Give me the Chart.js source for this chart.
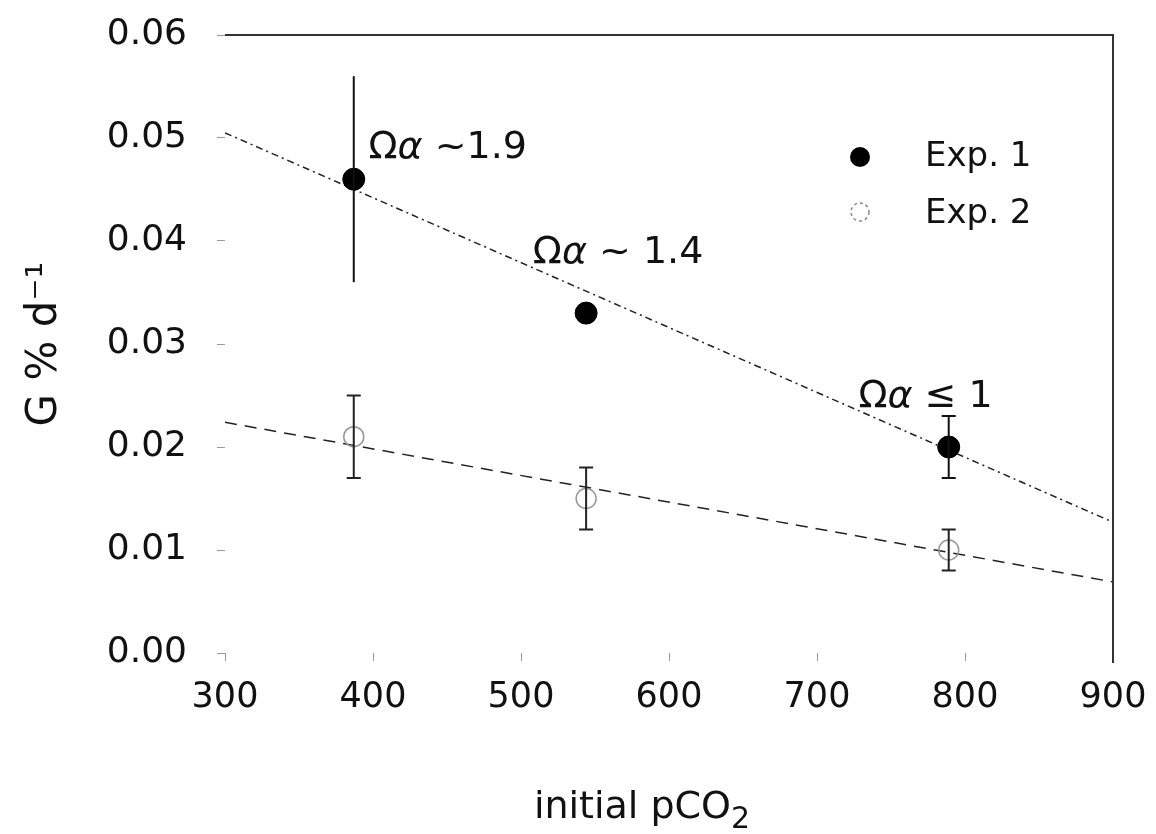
<!DOCTYPE html>
<html>
<head>
<meta charset="utf-8">
<script src="https://cdn.jsdelivr.net/npm/chart.js@4/dist/chart.umd.min.js"></script>
<style>
  body { margin: 0; background: #fff; }
  #wrap { width: 1156px; height: 834px; position: relative; }
</style>
</head>
<body>
<div id="wrap"><canvas id="chart"></canvas></div>
<script>
// data
var pco2 = [387, 544, 789];
var exp1 = [0.046, 0.033, 0.020];
var exp1Err = [0.010, 0, 0.003];
var exp2 = [0.021, 0.015, 0.010];
var exp2Err = [0.004, 0.003, 0.002];
// regression lines (end points)
var fitX = [300, 900];
var fit1 = [0.0505, 0.0127];
var fit2 = [0.0224, 0.0069];
var notes = [
  { x: 397, y: 0.0481, rest: " ~1.9" },
  { x: 508, y: 0.0379, rest: " ~ 1.4" },
  { x: 728, y: 0.0239, rest: " \u2264 1" }
];

function pts(xs, ys) {
  return xs.map(function (x, i) { return { x: x, y: ys[i] }; });
}

var FONT = "'DejaVu Sans', sans-serif";

var extras = {
  id: "extras",
  afterDatasetsDraw: function (chart) {
    var ctx = chart.ctx;
    var xs = chart.scales.x, ys = chart.scales.y;
    var a = chart.chartArea;

    // frame: top and right
    ctx.save();
    ctx.strokeStyle = "#333";
    ctx.lineWidth = 2;
    ctx.beginPath();
    ctx.moveTo(a.left, a.top);
    ctx.lineTo(a.right, a.top);
    ctx.lineTo(a.right, a.bottom + 10);
    ctx.stroke();

    // error bars
    function bars(vals, errs, color, caps) {
      ctx.strokeStyle = color;
      ctx.lineWidth = 2;
      vals.forEach(function (v, i) {
        if (!errs[i]) return;
        var px = xs.getPixelForValue(pco2[i]);
        var top = ys.getPixelForValue(v + errs[i]);
        var bot = ys.getPixelForValue(v - errs[i]);
        ctx.beginPath();
        ctx.moveTo(px, top); ctx.lineTo(px, bot);
        if (caps || errs[i] < 0.008) {
          ctx.moveTo(px - 7, top); ctx.lineTo(px + 7, top);
          ctx.moveTo(px - 7, bot); ctx.lineTo(px + 7, bot);
        }
        ctx.stroke();
      });
    }
    bars(exp1, exp1Err, "#111", false);
    bars(exp2, exp2Err, "#222", true);

    // annotations
    ctx.fillStyle = "#111";
    ctx.textBaseline = "alphabetic";
    notes.forEach(function (n) {
      var px = xs.getPixelForValue(n.x);
      var py = ys.getPixelForValue(n.y);
      ctx.font = "38px " + FONT;
      ctx.fillText("\u03A9", px, py);
      var w = ctx.measureText("\u03A9").width;
      ctx.font = "italic 38px " + FONT;
      ctx.fillText("\u03B1", px + w, py);
      w += ctx.measureText("\u03B1").width;
      ctx.font = "38px " + FONT;
      ctx.fillText(n.rest, px + w, py);
    });

    // legend
    ctx.beginPath();
    ctx.fillStyle = "#000";
    ctx.arc(860, 157, 10, 0, Math.PI * 2);
    ctx.fill();
    ctx.beginPath();
    ctx.strokeStyle = "#888";
    ctx.lineWidth = 1.5;
    ctx.setLineDash([3, 3]);
    ctx.arc(860, 212, 9, 0, Math.PI * 2);
    ctx.stroke();
    ctx.setLineDash([]);
    ctx.fillStyle = "#111";
    ctx.font = "34px " + FONT;
    ctx.textBaseline = "middle";
    ctx.fillText("Exp. 1", 925, 157);
    ctx.fillText("Exp. 2", 925, 214);

    // x axis title with subscript
    ctx.textBaseline = "alphabetic";
    ctx.font = "38px " + FONT;
    var t = "initial pCO";
    var tw = ctx.measureText(t).width;
    ctx.font = "30px " + FONT;
    var sw = ctx.measureText("2").width;
    var x0 = 642 - (tw + sw) / 2;
    ctx.font = "38px " + FONT;
    ctx.fillText(t, x0, 818);
    ctx.font = "30px " + FONT;
    ctx.fillText("2", x0 + tw, 828);
    ctx.restore();
  }
};

new Chart(document.getElementById("chart"), {
  type: "scatter",
  data: {
    datasets: [
      {
        label: "Exp. 1",
        data: pts(pco2, exp1),
        pointRadius: 11,
        pointBackgroundColor: "#000",
        pointBorderColor: "#000",
        order: 1
      },
      {
        label: "Exp. 2",
        data: pts(pco2, exp2),
        pointRadius: 10,
        pointBackgroundColor: "rgba(255,255,255,0)",
        pointBorderColor: "#999",
        pointBorderWidth: 1.5,
        order: 2
      },
      {
        label: "fit 1",
        data: pts(fitX, fit1),
        showLine: true,
        pointRadius: 0,
        borderColor: "#222",
        borderWidth: 1.5,
        borderDash: [7, 4, 2, 4],
        order: 3
      },
      {
        label: "fit 2",
        data: pts(fitX, fit2),
        showLine: true,
        pointRadius: 0,
        borderColor: "#222",
        borderWidth: 1.5,
        borderDash: [12, 8],
        order: 4
      }
    ]
  },
  options: {
    responsive: true,
    maintainAspectRatio: false,
    animation: false,
    layout: { autoPadding: false, padding: { top: 35, right: 43, left: 0, bottom: 0 } },
    plugins: { legend: { display: false }, tooltip: { enabled: false } },
    scales: {
      x: {
        type: "linear",
        min: 300,
        max: 900,
        border: { display: false },
        grid: { drawOnChartArea: false, drawTicks: true, tickLength: 8, color: "#999" },
        ticks: { stepSize: 100, padding: 16, color: "#111", font: { family: FONT, size: 35 } },
        afterFit: function (s) { s.height = 181; s.paddingLeft = 0; s.paddingRight = 0; }
      },
      y: {
        min: 0,
        max: 0.06,
        border: { display: false },
        grid: { drawOnChartArea: false, drawTicks: true, tickLength: 8, color: "#999" },
        ticks: {
          stepSize: 0.01,
          padding: 30,
          color: "#111",
          font: { family: FONT, size: 36 },
          callback: function (v) { return v.toFixed(2); }
        },
        title: {
          display: true,
          text: "G % d\u207B\u00B9",
          color: "#111",
          font: { family: FONT, size: 42 },
          padding: { top: 20, bottom: 0 }
        },
        afterFit: function (s) { s.width = 225; s.paddingTop = 0; s.paddingBottom = 0; }
      }
    }
  },
  plugins: [extras]
});
</script>
</body>
</html>
